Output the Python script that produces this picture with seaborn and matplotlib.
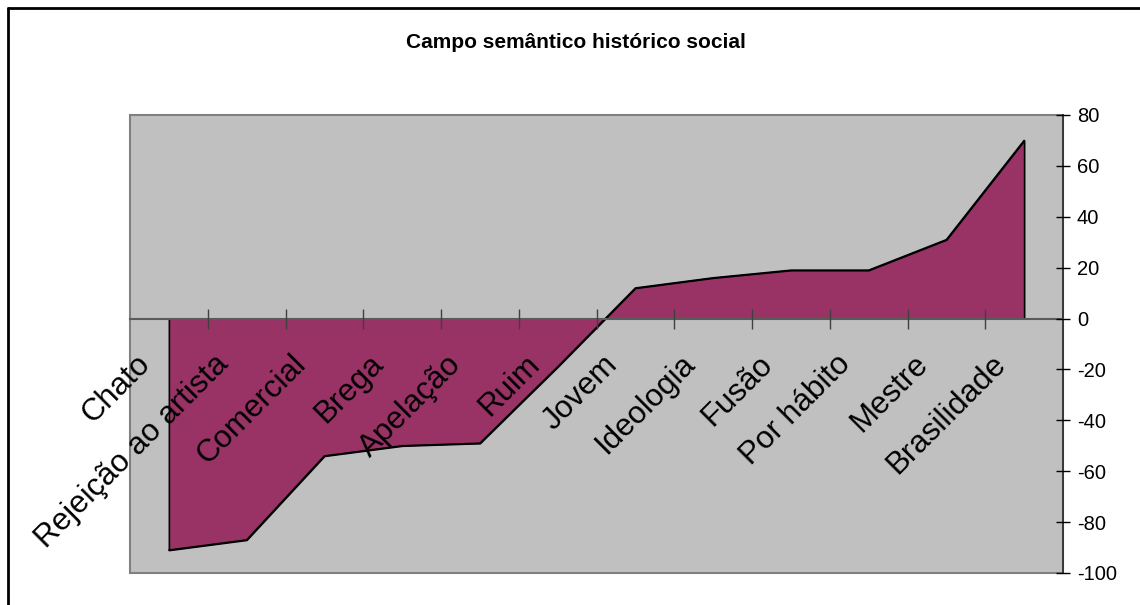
import numpy as np
import pandas as pd
import matplotlib.pyplot as plt
import seaborn as sns
from matplotlib.transforms import ScaledTranslation
from matplotlib.patches import Rectangle
from matplotlib.lines import Line2D

sns.set_theme(style='white')
plt.rcParams['font.family'] = ['Liberation Sans', 'DejaVu Sans']
plt.rcParams['axes.unicode_minus'] = False

#%% dados
titulo = "Campo semântico histórico social"
categorias = ['Chato', 'Rejeição ao artista', 'Comercial', 'Brega', 'Apelação', 'Ruim',
              'Jovem', 'Ideologia', 'Fusão', 'Por hábito', 'Mestre', 'Brasilidade']
valores = [-91, -87, -54, -50, -49, -19, 12, 16, 19, 19, 31, 70]
yticks = [-100, -80, -60, -40, -20, 0, 20, 40, 60, 80]

df = pd.DataFrame({'pos': np.arange(len(categorias)), 'valor': valores})

#%% grafico
fig = plt.figure(figsize=(11.4, 6.05), dpi=100)
ax = fig.add_axes([130/1140, 1-573/605, (1063-130)/1140, (573-115)/605])
ax.set_facecolor('#C0C0C0')

ax.fill_between(df['pos'], df['valor'], 0, facecolor='#993366',
                edgecolor='black', linewidth=1.2, zorder=1)
sns.lineplot(data=df, x='pos', y='valor', color='black', linewidth=1.2, ax=ax, zorder=1.1)

ax.set_xlim(-0.5, len(categorias) - 0.5)
ax.set_ylim(-100, 80)
ax.set_xlabel('')
ax.set_ylabel('')
ax.set_axisbelow(False)

# moldura da area do grafico
ax.spines['left'].set_visible(False)
ax.spines['top'].set_visible(False)
ax.add_patch(Rectangle((0, 0), 1, 1, transform=ax.transAxes, fill=False,
                       edgecolor='#808080', linewidth=1.5, zorder=0.5, clip_on=False))
ax.spines['bottom'].set_position(('data', 0))
ax.spines['bottom'].set_color('#5a5a5a')
ax.spines['bottom'].set_linewidth(1.5)
ax.spines['right'].set_color('#333333')
ax.spines['right'].set_linewidth(1.3)

# eixo y a direita
ax.yaxis.tick_right()
ax.set_yticks(yticks)
ax.tick_params(axis='y', direction='inout', length=10, width=1, color='black',
               labelsize=14.5, pad=5, left=False, labelcolor='black')

# eixo x no zero (so os tracos entre categorias)
ax.set_xticks(np.arange(0.5, len(categorias) - 1, 1))
ax.tick_params(axis='x', which='major', direction='inout', length=14, width=1,
               color='#404040', labelbottom=False, bottom=True)

# rotulos das categorias, inclinados, logo abaixo do zero
desloc = ax.transData + ScaledTranslation(-24/72, -22/72, fig.dpi_scale_trans)
for p, nome in zip(df['pos'], categorias):
    ax.text(p, 0, nome, transform=desloc, rotation=45, rotation_mode='anchor',
            ha='right', va='top', fontsize=22.5, color='black', zorder=3)

fig.text(576/1140, 1 - 43/605, titulo, ha='center', va='center',
         fontsize=15, fontweight='bold', color='black')

# borda externa
fig.add_artist(Line2D([8/1140, 8/1140], [0, 1 - 8/605], color='black', linewidth=2))
fig.add_artist(Line2D([8/1140, 1], [1 - 8/605, 1 - 8/605], color='black', linewidth=2))

fig.savefig('out.png', dpi=100)
